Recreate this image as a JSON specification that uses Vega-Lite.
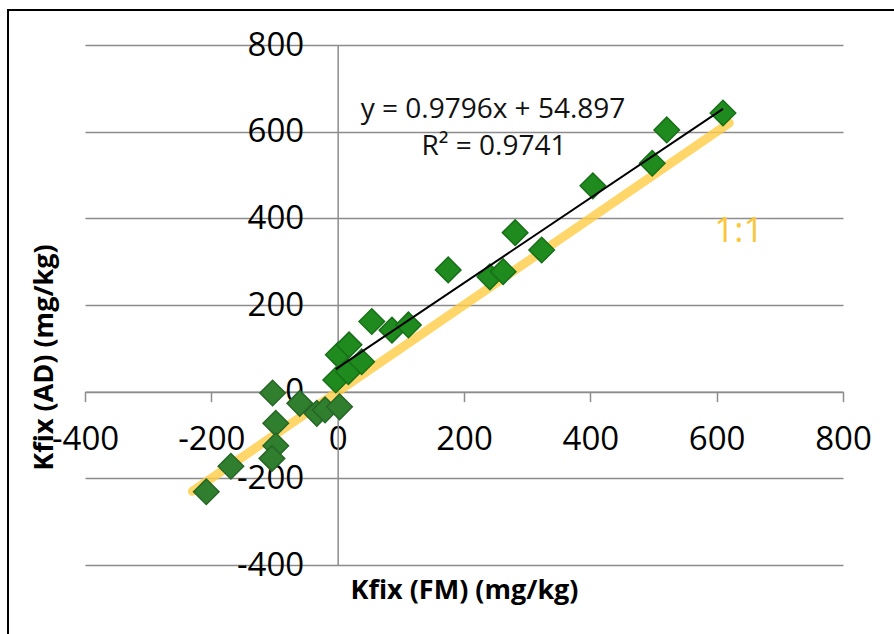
{
  "$schema": "https://vega.github.io/schema/vega-lite/v6.json",
  "width": 758,
  "height": 520,
  "autosize": {"type": "none"},
  "padding": {"left": 85, "top": 45, "right": 51, "bottom": 69},
  "background": "white",
  "config": {
    "view": {"stroke": null},
    "text": {"font": "Open Sans"},
    "axis": {
      "labelFont": "Open Sans",
      "labelFontSize": 33,
      "labelColor": "#000000",
      "labelFlush": false,
      "labelOverlap": false,
      "titleFont": "Open Sans",
      "titleFontSize": 27,
      "titleFontWeight": "bold",
      "titleColor": "#000000",
      "domainColor": "#8c8c8c",
      "domainWidth": 1.5,
      "tickColor": "#8c8c8c",
      "tickWidth": 1.5,
      "gridColor": "#8c8c8c",
      "gridWidth": 1.5,
      "gridOpacity": 1
    }
  },
  "datasets": {
    "samples": [
      {"x": -208, "y": -231, "series": "neg"},
      {"x": -169, "y": -172, "series": "neg"},
      {"x": -103, "y": -3, "series": "neg"},
      {"x": -98, "y": -73, "series": "neg"},
      {"x": -98, "y": -125, "series": "neg"},
      {"x": -104, "y": -154, "series": "neg"},
      {"x": -60, "y": -27, "series": "neg"},
      {"x": -33, "y": -50, "series": "neg"},
      {"x": -20, "y": -42, "series": "neg"},
      {"x": 3, "y": -35, "series": "neg"},
      {"x": -3, "y": 27, "series": "pos"},
      {"x": 1, "y": 85, "series": "pos"},
      {"x": 18, "y": 108, "series": "pos"},
      {"x": 17, "y": 46, "series": "pos"},
      {"x": 38, "y": 69, "series": "pos"},
      {"x": 54, "y": 162, "series": "pos"},
      {"x": 86, "y": 142, "series": "pos"},
      {"x": 112, "y": 154, "series": "pos"},
      {"x": 175, "y": 281, "series": "pos"},
      {"x": 241, "y": 265, "series": "pos"},
      {"x": 262, "y": 277, "series": "pos"},
      {"x": 281, "y": 367, "series": "pos"},
      {"x": 323, "y": 327, "series": "pos"},
      {"x": 404, "y": 475, "series": "pos"},
      {"x": 498, "y": 527, "series": "pos"},
      {"x": 521, "y": 604, "series": "pos"},
      {"x": 610, "y": 643, "series": "pos"}
    ],
    "oneToOne": [
      {"x": -230, "y": -230},
      {"x": 620, "y": 620}
    ],
    "trend": [
      {"x": -3, "y": 51.96},
      {"x": 610, "y": 652.45}
    ],
    "notes": [
      {"note": "y = 0.9796x + 54.897"},
      {"note": "R² = 0.9741"},
      {"note": "1:1"}
    ]
  },
  "layer": [
    {
      "data": {"name": "oneToOne"},
      "mark": {"type": "line", "stroke": "#FFCC44", "strokeOpacity": 0.8, "strokeWidth": 9, "strokeCap": "round"},
      "encoding": {
        "x": {"field": "x", "type": "quantitative", "title": "Kfix (FM) (mg/kg)"},
        "y": {"field": "y", "type": "quantitative", "title": "Kfix (AD) (mg/kg)"}
      }
    },
    {
      "data": {"name": "samples"},
      "mark": {"type": "point", "shape": "diamond", "filled": true, "size": 650, "strokeWidth": 1.5, "opacity": 1},
      "encoding": {
        "x": {
          "field": "x",
          "type": "quantitative",
          "title": "Kfix (FM) (mg/kg)",
          "scale": {"domain": [-400, 800], "nice": false, "zero": false},
          "axis": {
            "orient": "bottom",
            "offset": -173.33,
            "values": [-400, -200, 0, 200, 400, 600, 800],
            "grid": false,
            "tickSize": 10,
            "labelPadding": 38,
            "labelBaseline": "middle",
            "labelExpr": "datum.value < 0 ? '-' + abs(datum.value) : '' + datum.value",
            "titleBaseline": "alphabetic",
            "titleY": 207
          }
        },
        "y": {
          "field": "y",
          "type": "quantitative",
          "title": "Kfix (AD) (mg/kg)",
          "scale": {"domain": [-400, 800], "nice": false, "zero": false},
          "axis": {
            "orient": "left",
            "offset": -252.67,
            "values": [-400, -200, 0, 200, 400, 600, 800],
            "grid": true,
            "ticks": false,
            "labelPadding": 34,
            "labelExpr": "datum.value < 0 ? '-' + abs(datum.value) : '' + datum.value",
            "titleBaseline": "alphabetic",
            "titleX": -284.7,
            "titleY": 312
          }
        },
        "fill": {
          "field": "series",
          "type": "nominal",
          "scale": {"domain": ["neg", "pos"], "range": ["#2F7F2F", "#1F8B1F"]},
          "legend": null
        },
        "stroke": {
          "field": "series",
          "type": "nominal",
          "scale": {"domain": ["neg", "pos"], "range": ["#266626", "#177017"]},
          "legend": null
        }
      }
    },
    {
      "data": {"name": "trend"},
      "mark": {"type": "line", "stroke": "#000000", "strokeWidth": 2},
      "encoding": {
        "x": {"field": "x", "type": "quantitative", "title": "Kfix (FM) (mg/kg)"},
        "y": {"field": "y", "type": "quantitative", "title": "Kfix (AD) (mg/kg)"}
      }
    },
    {
      "data": {"name": "notes"},
      "transform": [{"filter": "datum.note == 'y = 0.9796x + 54.897'"}],
      "mark": {"type": "text", "fontSize": 28, "color": "#111111", "align": "center", "baseline": "alphabetic"},
      "encoding": {
        "text": {"field": "note"},
        "x": {"datum": 245.9, "type": "quantitative"},
        "y": {"datum": 631, "type": "quantitative"}
      }
    },
    {
      "data": {"name": "notes"},
      "transform": [{"filter": "datum.note == 'R² = 0.9741'"}],
      "mark": {"type": "text", "fontSize": 28, "color": "#111111", "align": "center", "baseline": "alphabetic"},
      "encoding": {
        "text": {"field": "note"},
        "x": {"datum": 247.5, "type": "quantitative"},
        "y": {"datum": 546.2, "type": "quantitative"}
      }
    },
    {
      "data": {"name": "notes"},
      "transform": [{"filter": "datum.note == '1:1'"}],
      "mark": {"type": "text", "fontSize": 35, "color": "#FAC63A", "align": "center", "baseline": "alphabetic"},
      "encoding": {
        "text": {"field": "note"},
        "x": {"datum": 635.3, "type": "quantitative"},
        "y": {"datum": 344.3, "type": "quantitative"}
      }
    },
    {
      "data": {"name": "notes"},
      "transform": [{"filter": "datum.note == '1:1'"}],
      "mark": {"type": "rect", "fill": null, "stroke": "#000000", "strokeWidth": 2, "clip": false},
      "encoding": {
        "x": {"datum": -521.9, "type": "quantitative"},
        "x2": {"datum": 1000},
        "y": {"datum": 880.8, "type": "quantitative"},
        "y2": {"datum": -700}
      }
    }
  ]
}
